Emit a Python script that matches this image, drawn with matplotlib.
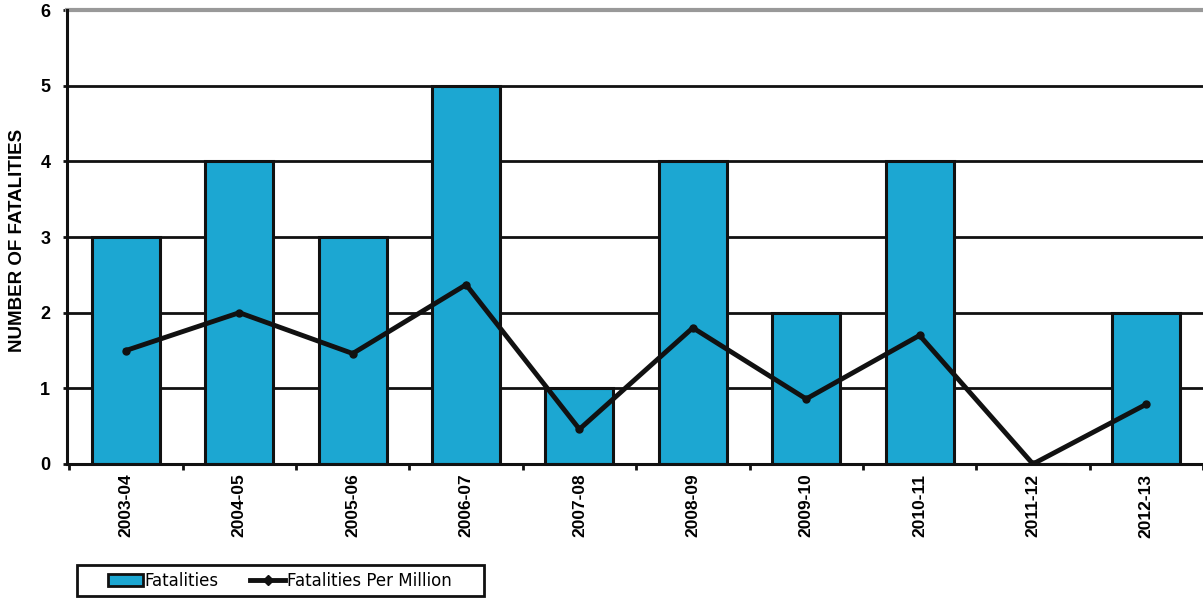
import numpy as np
import matplotlib.pyplot as plt
from matplotlib.patches import Patch, Rectangle
from matplotlib.lines import Line2D

# Data -----------------------------------------------------------------

years = ["2003-04", "2004-05", "2005-06", "2006-07", "2007-08",
         "2008-09", "2009-10", "2010-11", "2011-12", "2012-13"]
fatalities = [3, 4, 3, 5, 1, 4, 2, 4, 0, 2]
per_million = [1.50, 2.00, 1.46, 2.37, 0.46, 1.80, 0.86, 1.70, 0.0, 0.79]

bar_color = "#1ca7d2"
ink = "#111111"

# Plot -----------------------------------------------------------------

W, H = 1203, 598
fig = plt.figure(figsize=(W/100, H/100), dpi=100)
ax = fig.add_axes([67/W, 1 - 464/H, 1 - 67/W, (464 - 10)/H])

x = np.arange(len(years))
ax.bar(x, fatalities, width=0.6, color=bar_color, edgecolor=ink,
       linewidth=2.2, zorder=2)
ax.plot(x, per_million, color=ink, lw=3.5, marker="o", ms=5,
        zorder=3, solid_joinstyle="miter")

ax.set_xlim(-0.52, 9.5)
ax.set_ylim(0, 6)
ax.set_yticks(range(7))
ax.yaxis.grid(True, color=ink, lw=2, zorder=0)
ax.set_axisbelow(True)

# category labels at centers, tick marks at boundaries
ax.set_xticks(x)
ax.set_xticklabels(years, rotation=90, fontweight="bold", fontsize=12.5,
                   family="Liberation Sans")
ax.set_xticks(np.arange(-0.5, 10, 1), minor=True)
ax.tick_params(axis="x", which="major", length=0, pad=7)
ax.tick_params(axis="x", which="minor", length=4, width=2, color=ink)
ax.tick_params(axis="y", length=3, width=2, color=ink, pad=9)
for lbl in ax.get_yticklabels():
    lbl.set_fontweight("bold")
    lbl.set_family("Liberation Sans")
    lbl.set_fontsize(13)

for s in ["top", "right"]:
    ax.spines[s].set_visible(False)
for s in ["left", "bottom"]:
    ax.spines[s].set_linewidth(2.2)
    ax.spines[s].set_color(ink)
ax.axhline(6, color="#999999", lw=3, zorder=1, clip_on=False)

fig.text(18/W, 1 - 240/H, "NUMBER OF FATALITIES", rotation=90,
         ha="center", va="center", fontweight="bold", fontsize=13.5,
         family="Liberation Sans")

# legend with a hand-drawn frame
handles = [
    Patch(facecolor=bar_color, edgecolor=ink, linewidth=2),
    Line2D([0], [0], color=ink, lw=3.5, marker="D", ms=5),
]
fig.legend(handles, ["Fatalities", "Fatalities Per Million"],
           loc="center left", bbox_to_anchor=(108/W, 1 - 581/H), ncol=2,
           frameon=False, fontsize=12,
           handlelength=2.1, handletextpad=0.1, columnspacing=1.9,
           borderpad=0, borderaxespad=0)
fig.add_artist(Rectangle((77/W, 1 - 596/H), (484 - 77)/W, 31/H,
                         transform=fig.transFigure, fill=False,
                         edgecolor=ink, lw=2))

fig.savefig("out.png", dpi=100)
